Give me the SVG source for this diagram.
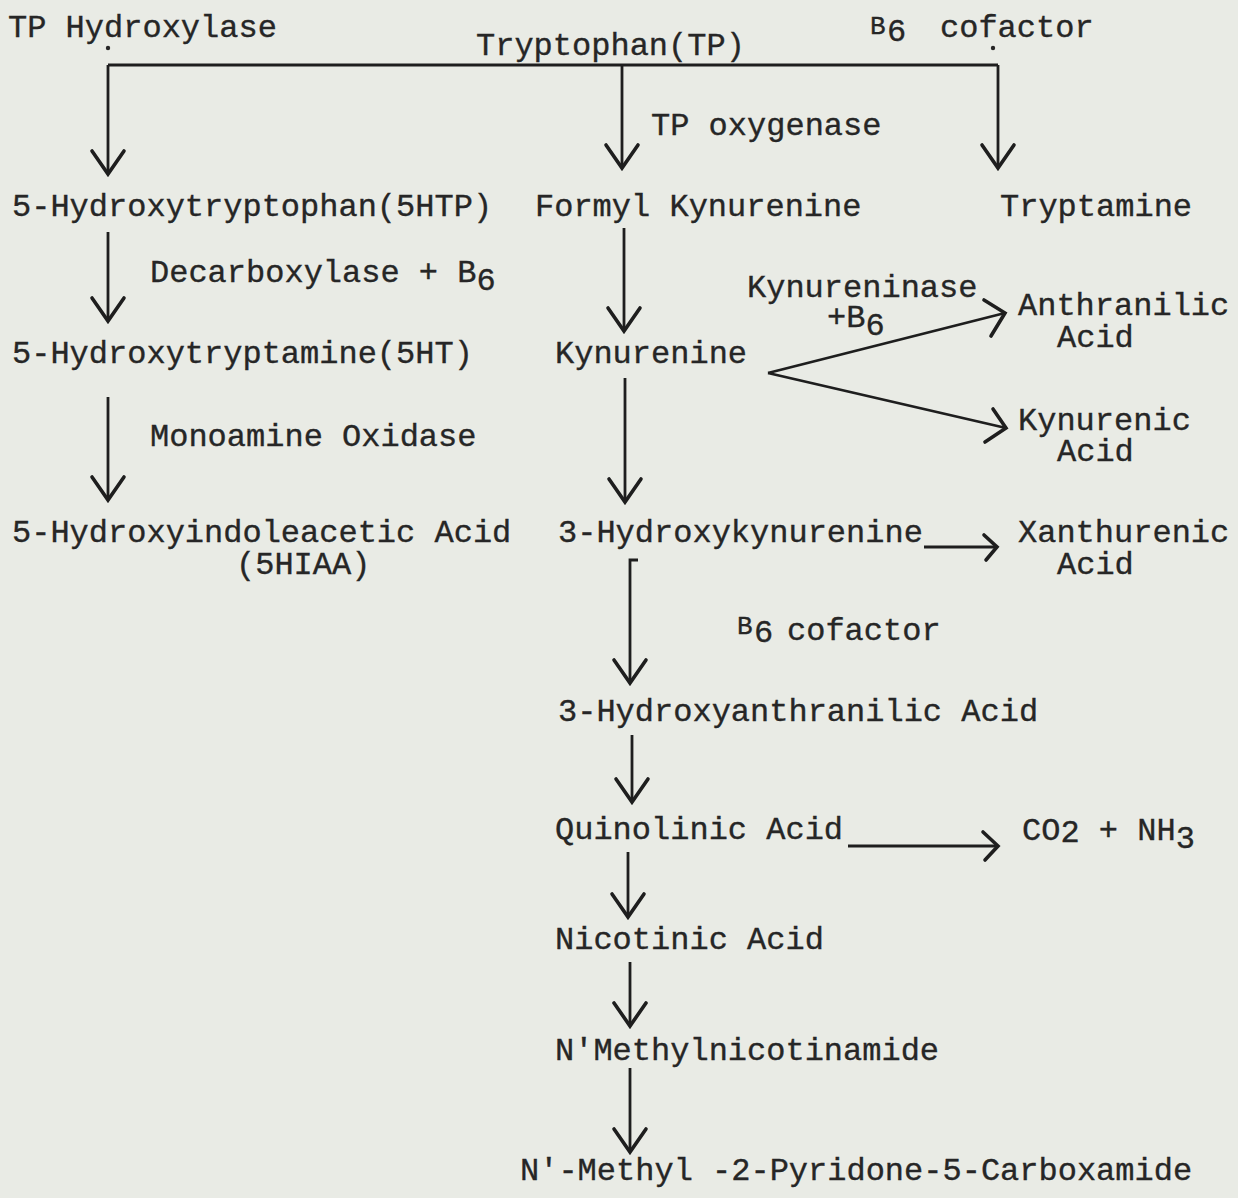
<svg xmlns="http://www.w3.org/2000/svg" width="1238" height="1198" viewBox="0 0 1238 1198">
<defs>
<style>
text{font-family:"Liberation Mono","Courier New",monospace;font-size:32px;fill:#262626;stroke:#262626;stroke-width:0.35}
.sm{font-size:26px}
.ln{stroke:#1e1e1e;stroke-width:2.8;fill:none}
.hd{stroke:#1e1e1e;stroke-width:3.6;fill:none;stroke-linecap:round}
</style>
<marker id="ah" markerUnits="userSpaceOnUse" viewBox="-26 -20 30 40" refX="0" refY="0" markerWidth="30" markerHeight="40" orient="auto">
<path d="M-23 -16 L0 0 L-23 16" fill="none" stroke="#1e1e1e" stroke-width="3.6" stroke-linecap="round" stroke-linejoin="miter"/>
</marker>
</defs>
<rect width="1238" height="1198" fill="#e9ebe5"/>
<g id="connectors">
<path class="ln" d="M108 65 H998"/>
<path class="ln" d="M108 65 V174" marker-end="url(#ah)"/>
<path class="ln" d="M622 65 V168" marker-end="url(#ah)"/>
<path class="ln" d="M998 65 V168" marker-end="url(#ah)"/>
<path class="ln" d="M108 232 V321" marker-end="url(#ah)"/>
<path class="ln" d="M624 228 V331" marker-end="url(#ah)"/>
<path class="ln" d="M768 373 L1005 313"/>
<path class="hd" d="M984 300 L1005 313 L991 336"/>
<path class="ln" d="M768 373 L1006 428"/>
<path class="hd" d="M993 409 L1006 428 L985 442"/>
<path class="ln" d="M108 397 V500" marker-end="url(#ah)"/>
<path class="ln" d="M625 378 V502" marker-end="url(#ah)"/>
<path class="ln" d="M924 547 H996"/>
<path class="hd" d="M984 535 L997 547 L986 560"/>
<path class="ln" d="M638 560 H630 V683" marker-end="url(#ah)"/>
<path class="ln" d="M632 735 V802" marker-end="url(#ah)"/>
<path class="ln" d="M848 846 H996"/>
<path class="hd" d="M983 832 L998 846 L985 860"/>
<path class="ln" d="M628 852 V917" marker-end="url(#ah)"/>
<path class="ln" d="M630 962 V1026" marker-end="url(#ah)"/>
<path class="ln" d="M630 1068 V1152" marker-end="url(#ah)"/>
</g>
<g id="tp-hydroxylase"><text x="8" y="37">TP Hydroxylase</text><circle cx="108" cy="48" r="2.2" fill="#262626"/></g>
<g id="tryptophan"><text x="476" y="55">Tryptophan(TP)</text></g>
<g id="b6-cofactor-top"><text x="870" y="34" class="sm">B</text><text x="887" y="41">6</text><text x="940" y="37">cofactor</text><circle cx="993" cy="48" r="2.2" fill="#262626"/></g>
<g id="tp-oxygenase"><text x="651" y="135">TP oxygenase</text></g>
<g id="n-5htp"><text x="12" y="216">5-Hydroxytryptophan(5HTP)</text></g>
<g id="n-formyl"><text x="535" y="216">Formyl Kynurenine</text></g>
<g id="n-tryptamine"><text x="1000" y="216">Tryptamine</text></g>
<g id="decarboxylase"><text x="150" y="282">Decarboxylase + B<tspan dy="8">6</tspan></text></g>
<g id="kynureninase"><text x="747" y="297">Kynureninase</text><text x="827" y="327">+B<tspan dy="8">6</tspan></text></g>
<g id="n-anthranilic"><text x="1018" y="315">Anthranilic</text><text x="1057" y="347">Acid</text></g>
<g id="n-5ht"><text x="12" y="363">5-Hydroxytryptamine(5HT)</text></g>
<g id="n-kynurenine"><text x="555" y="363">Kynurenine</text></g>
<g id="n-kynurenic"><text x="1018" y="430">Kynurenic</text><text x="1057" y="461">Acid</text></g>
<g id="mao"><text x="150" y="446">Monoamine Oxidase</text></g>
<g id="n-5hiaa"><text x="12" y="542">5-Hydroxyindoleacetic Acid</text><text x="236" y="574">(5HIAA)</text></g>
<g id="n-3hk"><text x="558" y="542">3-Hydroxykynurenine</text></g>
<g id="n-xanthurenic"><text x="1018" y="542">Xanthurenic</text><text x="1057" y="574">Acid</text></g>
<g id="b6-cofactor-mid"><text x="737" y="634" class="sm">B</text><text x="754" y="642">6</text><text x="787" y="640">cofactor</text></g>
<g id="n-3haa"><text x="558" y="721">3-Hydroxyanthranilic Acid</text></g>
<g id="n-quinolinic"><text x="555" y="839">Quinolinic Acid</text></g>
<g id="n-co2"><text x="1022" y="840">CO<tspan dy="2">2</tspan><tspan dy="-2"> + NH</tspan><tspan dy="8">3</tspan></text></g>
<g id="n-nicotinic"><text x="555" y="949">Nicotinic Acid</text></g>
<g id="n-nmn"><text x="555" y="1060">N'Methylnicotinamide</text></g>
<g id="n-pyridone"><text x="520" y="1180">N'-Methyl -2-Pyridone-5-Carboxamide</text></g>
</svg>
